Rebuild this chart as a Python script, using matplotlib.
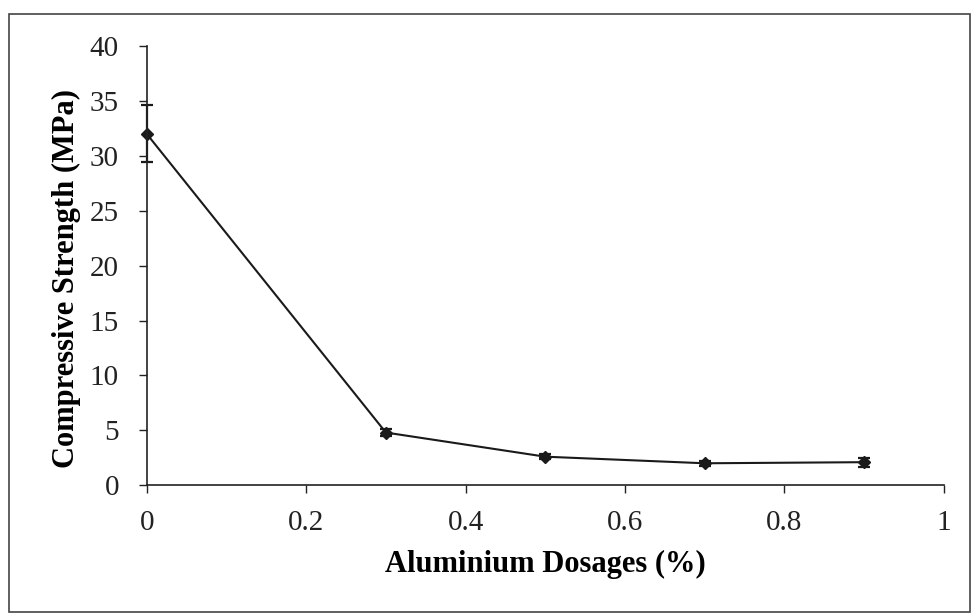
import matplotlib
matplotlib.use("Agg")
from matplotlib import pyplot as plt
from matplotlib.patches import Rectangle

dosage = [0, 0.3, 0.5, 0.7, 0.9]
strength = [32.0, 4.8, 2.6, 2.0, 2.1]
err = [2.6, 0.35, 0.25, 0.25, 0.4]

plt.rcParams['font.family'] = ['Liberation Serif', 'DejaVu Serif']

fig = plt.figure(figsize=(9.72, 6.15), dpi=100)
ax = fig.add_axes([0.151, 0.211, 0.82, 0.714])

line, caps, bars = ax.errorbar(dosage, strength, yerr=err, color='#1a1a1a', lw=1.5,
	marker='D', ms=6.5, capsize=4, elinewidth=1.6, capthick=1.6)
for a in [line] + list(caps) + list(bars):
	a.set_clip_on(False)

ax.set_xlim(0, 1)
ax.set_ylim(0, 40)
ax.set_xticks([0, 0.2, 0.4, 0.6, 0.8, 1])
ax.set_xticklabels(['0', '0.2', '0.4', '0.6', '0.8', '1'])
ax.set_yticks(range(0, 41, 5))
ax.tick_params(labelsize=21, direction='out', length=6, width=1, colors='#222222')
ax.tick_params(axis='y', pad=14)
ax.tick_params(axis='x', pad=12)

for s in ['top', 'right']:
	ax.spines[s].set_visible(False)
for s in ['left', 'bottom']:
	ax.spines[s].set_linewidth(1.2)
	ax.spines[s].set_color('#222222')

ax.set_xlabel('Aluminium Dosages (%)', fontsize=22, fontweight='bold', labelpad=10)
ax.set_ylabel('Compressive Strength (MPa)', fontsize=22, fontweight='bold', labelpad=6, y=0.47)

fig.patches.append(Rectangle((0.009, 0.005), 0.989, 0.972, transform=fig.transFigure,
	fill=False, edgecolor='#444444', lw=1.2))

fig.savefig('out.png', dpi=100)
